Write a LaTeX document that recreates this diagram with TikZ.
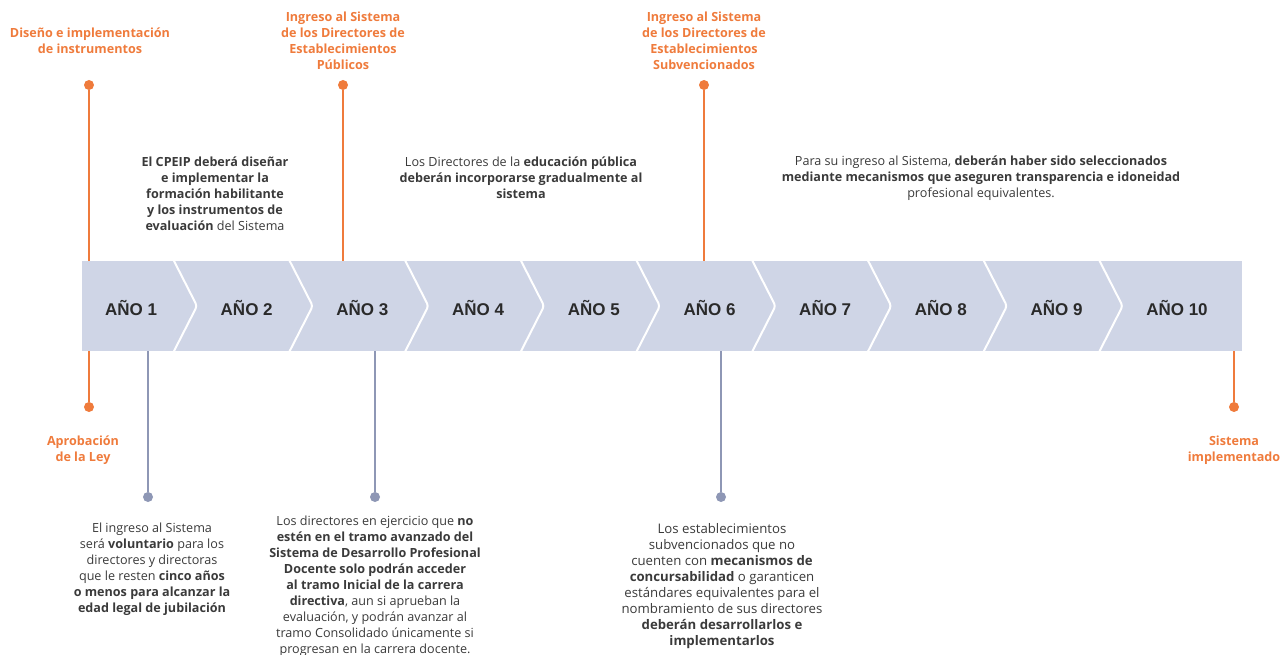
\documentclass[tikz,border=0pt]{standalone}
\usepackage{fontspec}
\setmainfont{Open Sans}
\newfontfamily\yearfont{Liberation Sans}
\definecolor{orng}{HTML}{EF7B3C}
\definecolor{gline}{HTML}{8E97B5}
\definecolor{bandc}{HTML}{CFD5E6}
\definecolor{txt}{HTML}{3A3A3A}
\definecolor{ytxt}{HTML}{2A2A2A}
\tikzset{
  band/.style={fill=bandc, draw=none},
  sepline/.style={draw=white, line width=2pt, rounded corners=3pt},
  yearlbl/.style={font=\yearfont\bfseries\fontsize{17}{20}\selectfont, text=ytxt, inner sep=0pt},
  odot/.style={circle, fill=orng, minimum size=10pt, inner sep=0pt},
  gdot/.style={circle, fill=gline, minimum size=10pt, inner sep=0pt},
  oline/.style={draw=orng, line width=2.8pt},
  gline/.style={draw=gline, line width=2.8pt},
  olbl/.style={font=\bfseries\fontsize{12.6}{16}\selectfont, text=orng, align=center, inner sep=0pt},
  desc/.style={font=\fontsize{12.6}{16}\selectfont, text=txt, align=center, inner sep=0pt},
  wdesc/.style={font=\fontsize{13.2}{16}\selectfont, text=txt, align=center, inner sep=0pt},
}
\begin{document}
\begin{tikzpicture}[x=1pt,y=-1pt]
\useasboundingbox (0,0) rectangle (1282,655);
% band
\fill[band] (82,261) rectangle (1242,351);
\foreach \i in {0,...,8}{
  \pgfmathsetmacro{\xs}{173+\i*115.7}
  \draw[sepline] (\xs,259) -- (\xs+24,306) -- (\xs,353);
}
% year labels
\foreach \i in {1,...,9}{
  \pgfmathsetmacro{\xl}{131+(\i-1)*115.7}
  \node[yearlbl] (y\i) at (\xl,308) {AÑO \i};
}
\node[yearlbl] (y10) at (1177,308) {AÑO 10};

% ---- orange markers ----
\coordinate (bt1) at (89,261);
\coordinate (bb1) at (89,351);
\node[odot] (od1) at (89,85) {};
\node[odot] (od1b) at (89,407) {};
\draw[oline] (od1) -- (bt1);
\draw[oline] (bb1) -- (od1b);
\node[olbl] (ol1) at (90,41) {Diseño e implementación\\de instrumentos};
\node[olbl] (ol1b) at (83,450) {Aprobación\\de la Ley};

\coordinate (bt3) at (343,261);
\node[odot] (od3) at (343,85) {};
\draw[oline] (od3) -- (bt3);
\node[olbl] (ol3) at (343,41) {Ingreso al Sistema\\de los Directores de\\Establecimientos\\Públicos};

\coordinate (bt6) at (704,261);
\node[odot] (od6) at (704,85) {};
\draw[oline] (od6) -- (bt6);
\node[olbl] (ol6) at (704,41) {Ingreso al Sistema\\de los Directores de\\Establecimientos\\Subvencionados};

\coordinate (bb10) at (1234,351);
\node[odot] (od10) at (1234,407) {};
\draw[oline] (bb10) -- (od10);
\node[olbl] (ol10) at (1234,450) {Sistema\\implementado};

% ---- grey markers ----
\coordinate (gb1) at (148,351);
\node[gdot] (gd1) at (148,497) {};
\draw[gline] (gb1) -- (gd1);
\node[desc] (gt1) at (152,569) {El ingreso al Sistema\\será \textbf{voluntario} para los\\directores y directoras\\que le resten \textbf{cinco años}\\\textbf{o menos para alcanzar la}\\\textbf{edad legal de jubilación}};

\coordinate (gb3) at (375,351);
\node[gdot] (gd3) at (375,497) {};
\draw[gline] (gb3) -- (gd3);
\node[desc] (gt3) at (375,586) {Los directores en ejercicio que \textbf{no}\\\textbf{estén en el tramo avanzado del}\\\textbf{Sistema de Desarrollo Profesional}\\\textbf{Docente solo podrán acceder}\\\textbf{al tramo Inicial de la carrera}\\\textbf{directiva}, aun si aprueban la\\evaluación, y podrán avanzar al\\tramo Consolidado únicamente si\\progresan en la carrera docente.};

\coordinate (gb6) at (721,351);
\node[gdot] (gd6) at (721,497) {};
\draw[gline] (gb6) -- (gd6);
\node[wdesc] (gt6) at (722,586) {Los establecimientos\\subvencionados que no\\cuenten con \textbf{mecanismos de}\\\textbf{concursabilidad} o garanticen\\estándares equivalentes para el\\nombramiento de sus directores\\\textbf{deberán desarrollarlos e}\\\textbf{implementarlos}};

% ---- top descriptions ----
\node[desc] (tt2) at (215,194) {\textbf{El CPEIP deberá diseñar}\\\textbf{e implementar la}\\\textbf{formación habilitante}\\\textbf{y los instrumentos de}\\\textbf{evaluación} del Sistema};
\node[desc] (tt4) at (521,178) {Los Directores de la \textbf{educación pública}\\\textbf{deberán incorporarse gradualmente al}\\\textbf{sistema}};
\node[desc] (tt7) at (981,178) {Para su ingreso al Sistema, \textbf{deberán haber sido seleccionados}\\\textbf{mediante mecanismos que aseguren transparencia e idoneidad}\\profesional equivalentes.};
\end{tikzpicture}
\end{document}
